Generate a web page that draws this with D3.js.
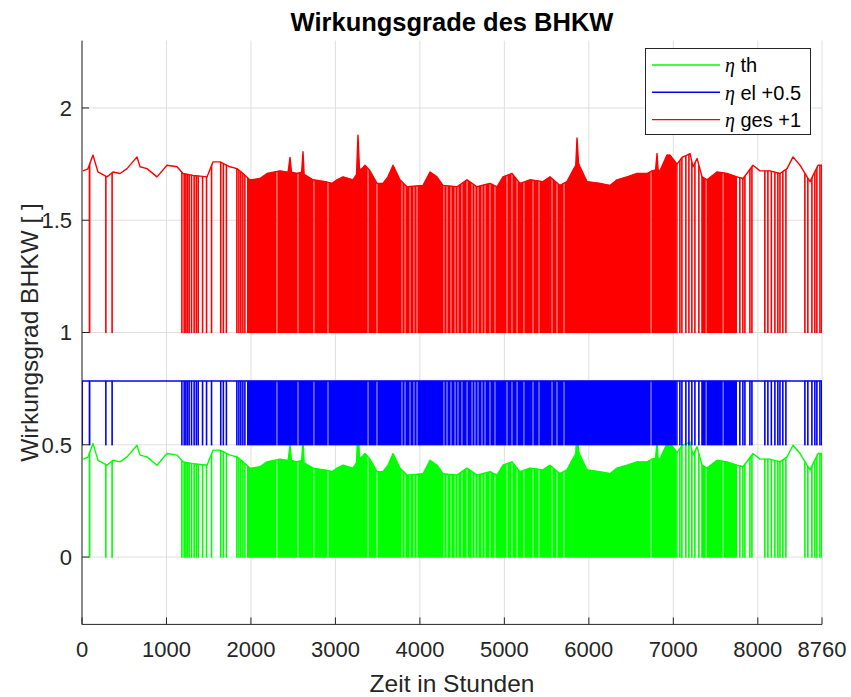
<!DOCTYPE html>
<html>
<head>
<meta charset="utf-8">
<script src="https://cdn.jsdelivr.net/npm/d3@7"></script>
<style>
  body { margin: 0; background: #fff; }
  text { font-family: "Liberation Sans", Arial, Helvetica, sans-serif; }
</style>
</head>
<body>
<svg id="chart" width="851" height="697"></svg>
<script>
// Thermal efficiency of the CHP unit while running (upper envelope), hour of year -> value
const thHours = [12, 70, 130, 189, 296, 367, 450, 533, 651, 687, 769, 888, 1006, 1125, 1196, 1314, 1480,
  1551, 1634, 1752, 1835, 1906, 1989, 2107, 2190, 2344, 2440, 2462, 2480, 2545, 2600, 2616, 2630, 2735,
  2900, 2960, 3019, 3090, 3208, 3250, 3267, 3285, 3315, 3350, 3409, 3492, 3563, 3622, 3682, 3764, 3847,
  4037, 4120, 4202, 4273, 4439, 4558, 4676, 4830, 4913, 4984, 5090, 5185, 5303, 5457, 5540, 5658, 5741,
  5801, 5845, 5860, 5878, 5895, 5978, 6132, 6250, 6333, 6452, 6570, 6688, 6748, 6790, 6807, 6820, 6842,
  6925, 6961, 7044, 7103, 7162, 7198, 7233, 7281, 7340, 7399, 7517, 7636, 7754, 7825, 7884, 7943, 8026,
  8144, 8263, 8346, 8417, 8500, 8583, 8618, 8654, 8713, 8760];
const thValues = [0.436, 0.445, 0.506, 0.431, 0.409, 0.431, 0.424, 0.446, 0.498, 0.454, 0.446, 0.409, 0.461,
  0.454, 0.424, 0.416, 0.409, 0.476, 0.476, 0.454, 0.446, 0.424, 0.395, 0.402, 0.424, 0.436, 0.430, 0.496,
  0.430, 0.424, 0.430, 0.521, 0.420, 0.396, 0.386, 0.380, 0.396, 0.409, 0.396, 0.420, 0.595, 0.440, 0.446,
  0.461, 0.436, 0.380, 0.380, 0.409, 0.461, 0.396, 0.365, 0.371, 0.431, 0.409, 0.371, 0.365, 0.396, 0.365,
  0.380, 0.365, 0.409, 0.424, 0.380, 0.396, 0.388, 0.409, 0.371, 0.388, 0.431, 0.460, 0.582, 0.470, 0.454,
  0.388, 0.380, 0.371, 0.396, 0.409, 0.424, 0.424, 0.436, 0.440, 0.513, 0.440, 0.436, 0.506, 0.506, 0.466,
  0.496, 0.506, 0.513, 0.454, 0.491, 0.409, 0.396, 0.431, 0.424, 0.409, 0.402, 0.431, 0.461, 0.436, 0.436,
  0.424, 0.446, 0.498, 0.461, 0.409, 0.388, 0.416, 0.461, 0.461];

// Electrical efficiency while running
const elHours = [0, 8760];
const elValues = [0.284, 0.284];

// Individual shutdowns [from hour, to hour]
const stops = [[0, 12], [86, 100], [280, 290], [354, 362],
  [1180, 1188], [1207, 1214], [1227, 1234], [1246, 1252], [1266, 1273], [1294, 1301], [1325, 1332],
  [1351, 1358], [1373, 1380], [1425, 1432], [1472, 1479], [1531, 1538], [1640, 1647], [1671, 1678],
  [1707, 1714], [1831, 1838], [1855, 1862], [1878, 1885], [1902, 1909], [1926, 1933],
  [7040, 7047], [7075, 7082], [7099, 7106], [7146, 7153], [7182, 7189], [7217, 7224], [7253, 7260],
  [7300, 7307], [7785, 7792], [7821, 7828], [7845, 7852], [7904, 7911], [7928, 7935], [8081, 8088],
  [8117, 8124], [8158, 8165], [8200, 8207], [8235, 8242], [8260, 8267], [8294, 8301], [8330, 8337],
  [8555, 8562], [8590, 8597], [8638, 8645], [8673, 8680], [8697, 8704], [8733, 8740], [8754, 8760]];

// Periods with daily start/stop cycling [from hour, to hour]
const cycleSpans = [[1953, 2304], [2312, 2553], [2561, 2742], [2750, 2908], [2916, 3382], [3390, 3488],
  [3496, 3784], [3792, 3820], [3828, 3879], [3887, 3926], [3934, 3962], [3970, 4281], [4289, 4317],
  [4325, 4364], [4372, 4412], [4420, 4447], [4455, 4494], [4502, 4554], [4562, 4613], [4621, 4648],
  [4656, 4684], [4692, 4731], [4739, 4767], [4775, 4826], [4834, 4885], [4893, 5027], [5035, 5086],
  [5094, 5146], [5154, 5228], [5236, 5335], [5343, 5406], [5414, 5560], [5568, 5619], [5627, 5702],
  [5710, 6732], [6740, 7032], [7330, 7384], [7392, 7585], [7593, 7754]];

const xTicks = [0, 1000, 2000, 3000, 4000, 5000, 6000, 7000, 8000, 8760];
const yTicks = [0, 0.5, 1, 1.5, 2];
const seriesLabels = ["th", "el +0.5", "ges +1"];
const seriesOffsets = [0, 0.5, 1];
const seriesColors = ["#00ff00", "#0000ff", "#ff0000"];

// total efficiency = thermal + electrical
const gesValues = thValues.map(v => v + elValues[0]);

const svg = d3.select("#chart");
const axisColor = "#262626";
const x = d3.scaleLinear().domain([0, 8760]).range([82, 822]);
const y = d3.scaleLinear().domain([-0.3, 2.3]).range([624.4, 40.6]);
const [yBottom, yTop] = y.range();

// grid
const grid = svg.append("g");
grid.selectAll("line.gx").data(xTicks).join("line")
  .attr("x1", d => x(d)).attr("x2", d => x(d)).attr("y1", yTop).attr("y2", yBottom)
  .attr("stroke", "#dfdfdf").attr("stroke-width", 1);
grid.selectAll("line.gy").data(yTicks).join("line")
  .attr("x1", x(0)).attr("x2", x(8760)).attr("y1", d => y(d)).attr("y2", d => y(d))
  .attr("stroke", "#dfdfdf").attr("stroke-width", 1);

const series = [
  { hours: thHours, values: thValues },
  { hours: elHours, values: elValues },
  { hours: thHours, values: gesValues }
];

const defs = svg.append("defs");
series.forEach((s, i) => {
  const off = seriesOffsets[i];
  const color = seriesColors[i];
  const pts = s.hours.map((h, k) => [h, s.values[k] + off]);
  const base = y(off);

  defs.append("clipPath").attr("id", "under" + i)
    .append("path")
    .attr("d", d3.area().x(d => x(d[0])).y0(base + 0.8).y1(d => y(d[1]) - 0.3)(pts));

  const g = svg.append("g").attr("clip-path", `url(#under${i})`);
  g.selectAll("rect.span").data(cycleSpans).join("rect")
    .attr("x", d => x(d[0])).attr("width", d => x(d[1]) - x(d[0]))
    .attr("y", yTop).attr("height", base + 1 - yTop)
    .attr("fill", color);
  g.selectAll("rect.stop").data(stops).join("rect")
    .attr("x", d => x(d[0]) - 0.6).attr("width", d => Math.max(1.6, x(d[1]) - x(d[0]) + 0.6))
    .attr("y", yTop).attr("height", base + 1 - yTop)
    .attr("fill", color);

  svg.append("path")
    .attr("d", d3.line().x(d => x(d[0])).y(d => y(d[1]))(pts))
    .attr("fill", "none").attr("stroke", color).attr("stroke-width", 1.4)
    .attr("stroke-linejoin", "round");
});

// axes
const ax = svg.append("g").attr("stroke", axisColor).attr("stroke-width", 1);
ax.append("line").attr("x1", x(0)).attr("x2", x(0)).attr("y1", yTop).attr("y2", yBottom);
ax.append("line").attr("x1", x(0)).attr("x2", x(8760)).attr("y1", yBottom).attr("y2", yBottom);
ax.selectAll("line.tx").data(xTicks).join("line")
  .attr("x1", d => x(d)).attr("x2", d => x(d)).attr("y1", yBottom).attr("y2", yBottom - 7);
ax.selectAll("line.ty").data(yTicks).join("line")
  .attr("x1", x(0)).attr("x2", x(0) + 7).attr("y1", d => y(d)).attr("y2", d => y(d));

svg.append("g").selectAll("text").data(xTicks).join("text")
  .attr("x", d => x(d)).attr("y", 657).attr("text-anchor", "middle")
  .attr("font-size", 22).attr("fill", axisColor).text(d => d);
svg.append("g").selectAll("text").data(yTicks).join("text")
  .attr("x", 72).attr("y", d => y(d)).attr("dy", "0.36em").attr("text-anchor", "end")
  .attr("font-size", 22).attr("fill", axisColor).text(d => d);

svg.append("text").attr("x", 452).attr("y", 31).attr("text-anchor", "middle")
  .attr("font-size", 25.5).attr("font-weight", "bold").attr("fill", "#000")
  .text("Wirkungsgrade des BHKW");
svg.append("text").attr("x", 452).attr("y", 692).attr("text-anchor", "middle")
  .attr("font-size", 24.5).attr("fill", axisColor).text("Zeit in Stunden");
svg.append("text").attr("transform", `translate(38,${(yTop + yBottom) / 2}) rotate(-90)`)
  .attr("text-anchor", "middle").attr("font-size", 24.5).attr("fill", axisColor)
  .text("Wirkungsgrad BHKW [ ]");

// legend
const lg = svg.append("g");
lg.append("rect").attr("x", 645.5).attr("y", 48.5).attr("width", 165).attr("height", 86)
  .attr("fill", "#fff").attr("stroke", axisColor).attr("stroke-width", 1);
seriesLabels.forEach((lab, i) => {
  const ly = 65 + i * 27.3;
  lg.append("line").attr("x1", 652).attr("x2", 720).attr("y1", ly).attr("y2", ly)
    .attr("stroke", seriesColors[i]).attr("stroke-width", 1.4);
  const t = lg.append("text").attr("x", 725).attr("y", ly).attr("dy", "0.36em")
    .attr("font-size", 20).attr("fill", "#000");
  t.append("tspan").attr("font-family", "'Liberation Serif', 'DejaVu Serif', serif")
    .attr("font-style", "italic").text("η");
  t.append("tspan").text(" " + lab);
});
</script>
</body>
</html>
